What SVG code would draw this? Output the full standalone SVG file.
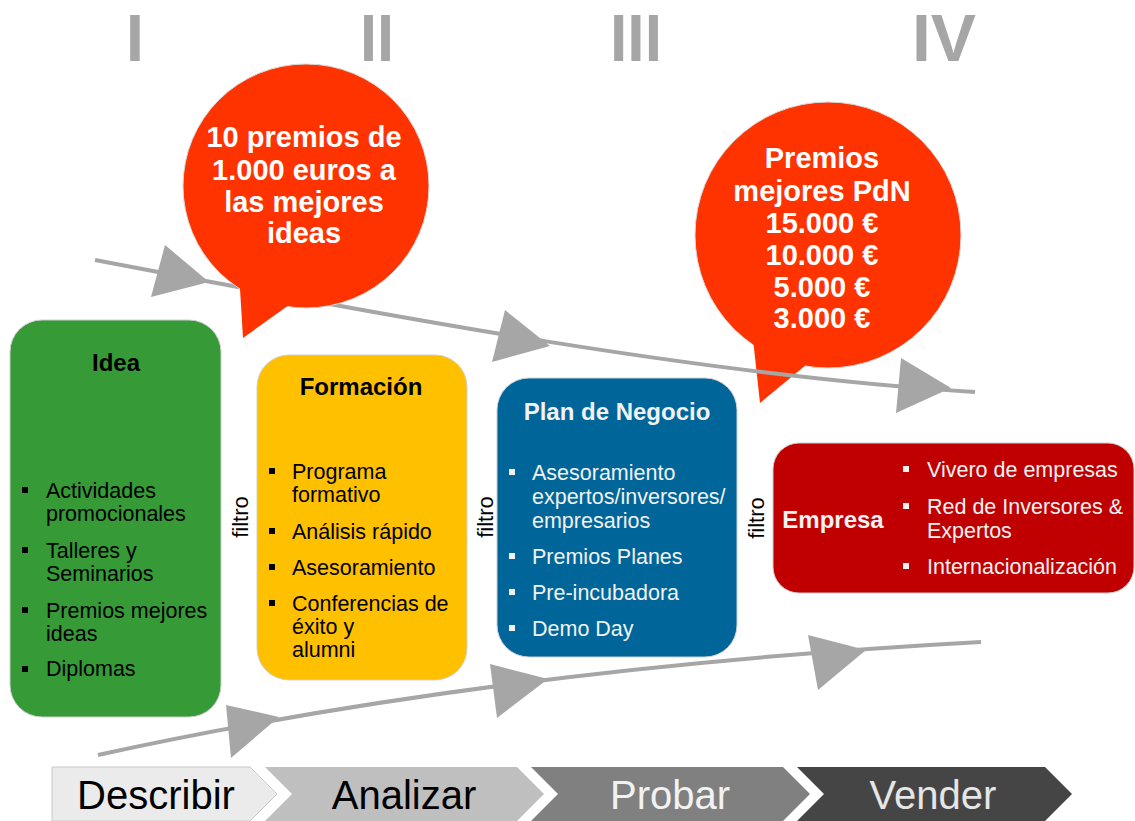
<svg xmlns="http://www.w3.org/2000/svg" width="1135" height="821" viewBox="0 0 1135 821">
<style>
text{font-family:"Liberation Sans",Arial,sans-serif}
.num{font-family:"Liberation Sans Narrow","Liberation Sans",sans-serif;font-weight:bold;font-size:66px;fill:#a6a6a6;text-anchor:middle}
.bub{fill:#ff3300;stroke:#d8d8d8;stroke-width:1}
.btx{font-weight:bold;font-size:29px;fill:#ffffff;text-anchor:middle}
.box{stroke:#cfcfcf;stroke-width:1}
.ttl{font-weight:bold;font-size:24px;text-anchor:middle}
.li{font-size:21.5px}
.dk{fill:#000000}
.lt{fill:#f2f2f2}
.filtro{font-size:22px;fill:#000000;text-anchor:middle}
.line{fill:none;stroke:#a6a6a6;stroke-width:4}
.ah{fill:#a6a6a6}
.chv{font-size:40px;text-anchor:middle}
</style>
<defs>
<rect id="bk" x="-3" y="-3" width="6" height="6" fill="#000000"/>
<rect id="bw" x="-3" y="-3" width="6" height="6" fill="#f2f2f2"/>
</defs>

<g id="numerals">
<text class="num" x="135" y="61">I</text>
<text class="num" x="377" y="61" textLength="34" lengthAdjust="spacingAndGlyphs">II</text>
<text class="num" x="636" y="61" textLength="52" lengthAdjust="spacingAndGlyphs">III</text>
<text class="num" x="944" y="61" textLength="64" lengthAdjust="spacingAndGlyphs">IV</text>
</g>

<g id="bubble2">
<circle class="bub" cx="828" cy="235" r="133"/>
<polygon points="752,330 760,403 812,360" fill="#ff3300"/>
<text class="btx" x="822" y="168">Premios</text>
<text class="btx" x="822" y="201">mejores PdN</text>
<text class="btx" x="822" y="233">15.000 €</text>
<text class="btx" x="822" y="265">10.000 €</text>
<text class="btx" x="822" y="297">5.000 €</text>
<text class="btx" x="822" y="328">3.000 €</text>
</g>

<g id="connectors">
<path class="line" d="M95,260 C400,318 700,375 975,392"/>
<polygon class="ah" points="165,245 151,297 209,282"/>
<polygon class="ah" points="505,310 492,362 550,346"/>
<polygon class="ah" points="901,358 896,413 951,388"/>
<path class="line" d="M98,755 C350,700 650,660 981,642"/>
<polygon class="ah" points="226,705 231,758 279,717"/>
<polygon class="ah" points="490,664 497,718 548,679"/>
<polygon class="ah" points="808,635 818,690 866,650"/>
</g>

<g id="bubble1">
<ellipse class="bub" cx="306" cy="186" rx="123" ry="122"/>
<polygon points="239,272 243,338 296,300" fill="#ff3300"/>
<text class="btx" x="304" y="147">10 premios de</text>
<text class="btx" x="304" y="180">1.000 euros a</text>
<text class="btx" x="304" y="212">las mejores</text>
<text class="btx" x="304" y="243">ideas</text>
</g>

<g id="idea">
<rect class="box" x="10" y="320" width="211" height="397" rx="32" fill="#369a37"/>
<text class="ttl dk" x="116" y="371">Idea</text>
<use href="#bk" x="25" y="490"/>
<text class="li dk" x="46" y="497.5">Actividades</text>
<text class="li dk" x="46" y="520.5">promocionales</text>
<use href="#bk" x="25" y="550"/>
<text class="li dk" x="46" y="557.5">Talleres y</text>
<text class="li dk" x="46" y="580.5">Seminarios</text>
<use href="#bk" x="25" y="610"/>
<text class="li dk" x="46" y="617.5">Premios mejores</text>
<text class="li dk" x="46" y="640.5">ideas</text>
<use href="#bk" x="25" y="669"/>
<text class="li dk" x="46" y="676">Diplomas</text>
</g>

<g id="filtro1"><text class="filtro" transform="translate(248,517) rotate(-90)">filtro</text></g>

<g id="formacion">
<rect class="box" x="257" y="355" width="210" height="325" rx="32" fill="#ffc000"/>
<text class="ttl dk" x="361" y="395">Formación</text>
<use href="#bk" x="272" y="471"/>
<text class="li dk" x="292" y="479">Programa</text>
<text class="li dk" x="292" y="502">formativo</text>
<use href="#bk" x="272" y="531"/>
<text class="li dk" x="292" y="539">Análisis rápido</text>
<use href="#bk" x="272" y="567"/>
<text class="li dk" x="292" y="575">Asesoramiento</text>
<use href="#bk" x="272" y="603"/>
<text class="li dk" x="292" y="611">Conferencias de</text>
<text class="li dk" x="292" y="634">éxito y</text>
<text class="li dk" x="292" y="657">alumni</text>
</g>

<g id="filtro2"><text class="filtro" transform="translate(493,517) rotate(-90)">filtro</text></g>

<g id="plan">
<rect class="box" x="497" y="378" width="240" height="279" rx="32" fill="#00669a"/>
<text class="ttl lt" x="617" y="420">Plan de Negocio</text>
<use href="#bw" x="512" y="472"/>
<text class="li lt" x="532" y="480">Asesoramiento</text>
<text class="li lt" x="532" y="504">expertos/inversores/</text>
<text class="li lt" x="532" y="528">empresarios</text>
<use href="#bw" x="512" y="556"/>
<text class="li lt" x="532" y="564">Premios Planes</text>
<use href="#bw" x="512" y="592"/>
<text class="li lt" x="532" y="600">Pre-incubadora</text>
<use href="#bw" x="512" y="628"/>
<text class="li lt" x="532" y="636">Demo Day</text>
</g>

<g id="filtro3"><text class="filtro" transform="translate(764,518) rotate(-90)">filtro</text></g>

<g id="empresa">
<rect class="box" x="773" y="443" width="361" height="150" rx="26" fill="#c00000"/>
<text class="ttl lt" x="833" y="528">Empresa</text>
<use href="#bw" x="906" y="469"/>
<text class="li lt" x="927" y="477">Vivero de empresas</text>
<use href="#bw" x="906" y="506"/>
<text class="li lt" x="927" y="514">Red de Inversores &amp;</text>
<text class="li lt" x="927" y="538">Expertos</text>
<use href="#bw" x="906" y="566"/>
<text class="li lt" x="927" y="574">Internacionalización</text>
</g>

<g id="chevrons">
<path d="M52,767 L250,767 L277,794 L250,821 L52,821 Z" fill="#ebebeb" stroke="#c8c8c8" stroke-width="1"/>
<text class="chv" x="156" y="809" fill="#000000">Describir</text>
<path d="M265,767 L517,767 L544,794 L517,821 L265,821 L292,794 Z" fill="#bfbfbf"/>
<text class="chv" x="404" y="809" fill="#000000">Analizar</text>
<path d="M531,767 L783,767 L810,794 L783,821 L531,821 L558,794 Z" fill="#808080"/>
<text class="chv" x="670" y="809" fill="#f2f2f2">Probar</text>
<path d="M797,767 L1045,767 L1072,794 L1045,821 L797,821 L824,794 Z" fill="#454545"/>
<text class="chv" x="933" y="809" fill="#e6e6e6">Vender</text>
</g>
</svg>
